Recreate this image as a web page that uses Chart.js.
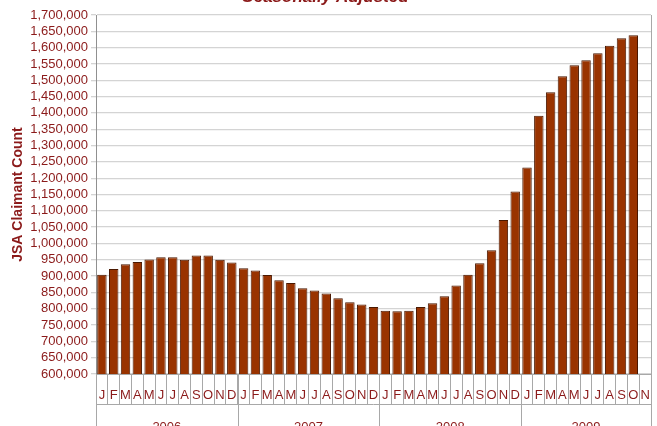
<!DOCTYPE html>
<html>
<head>
<meta charset="utf-8">
<script src="https://cdn.jsdelivr.net/npm/chart.js@4"></script>
<style>
  html, body { margin: 0; padding: 0; background: #fff; overflow: hidden; }
  #wrap { position: relative; width: 657px; height: 440px; margin-top: -14px; }
</style>
</head>
<body>
<div id="wrap"><canvas id="grafico"></canvas></div>
<script>
// Meses (ene 2006 - nov 2009)
const meses = ['J','F','M','A','M','J','J','A','S','O','N','D'];
const anios = ['2006', '2007', '2008', '2009'];
const etiquetas = [];
anios.forEach(a => meses.forEach(m => etiquetas.push(m)));
etiquetas.pop(); // 2009 termina en noviembre

// Valores
const valores2006 = [904000, 922000, 936000, 943000, 951000, 958000, 958000, 950000, 963000, 963000, 950000, 942000];
const valores2007 = [924000, 917000, 903000, 887000, 879000, 863000, 856000, 847000, 832000, 820000, 813000, 805000];
const valores2008 = [794000, 792000, 794000, 805000, 817000, 838000, 871000, 904000, 939000, 979000, 1072000, 1159000];
const valores2009 = [1233000, 1391000, 1463000, 1512000, 1546000, 1561000, 1583000, 1606000, 1629000, 1638000, null];
const valores = [...valores2006, ...valores2007, ...valores2008, ...valores2009];

const rojoOscuro = '#8b1a1a';

// Fila de años debajo de los meses
const filaAnios = {
  id: 'filaAnios',
  afterDraw(chart) {
    const ctx = chart.ctx;
    const x = chart.scales.x;
    const area = chart.chartArea;
    const base = area.bottom;
    const fondo = chart.height;
    const mitad = (x.getPixelForValue(1) - x.getPixelForValue(0)) / 2;
    ctx.save();
    ctx.strokeStyle = '#a8a8a8';
    ctx.lineWidth = 1;
    // línea horizontal bajo los meses
    ctx.beginPath();
    ctx.moveTo(area.left, base + 30.5);
    ctx.lineTo(area.right, base + 30.5);
    ctx.stroke();
    // separadores de años y bordes
    const cortes = [0, 12, 24, 36, etiquetas.length];
    cortes.forEach(i => {
      const px = Math.round(x.getPixelForValue(i) - mitad) + 0.5;
      ctx.beginPath();
      ctx.moveTo(px, base);
      ctx.lineTo(px, fondo);
      ctx.stroke();
    });
    // borde derecho del área
    ctx.beginPath();
    ctx.moveTo(Math.round(area.right) + 0.5, area.top);
    ctx.lineTo(Math.round(area.right) + 0.5, base);
    ctx.stroke();
    // textos de los años
    ctx.fillStyle = rojoOscuro;
    ctx.font = '13px Arial, "Liberation Sans", sans-serif';
    ctx.textAlign = 'center';
    ctx.textBaseline = 'middle';
    anios.forEach((a, k) => {
      const ini = cortes[k];
      const fin = cortes[k + 1] - 1;
      const cx = (x.getPixelForValue(ini) + x.getPixelForValue(fin)) / 2;
      ctx.fillText(a, cx, base + 53);
    });
    ctx.restore();
  }
};

new Chart(document.getElementById('grafico'), {
  type: 'bar',
  data: {
    labels: etiquetas,
    datasets: [{
      label: 'JSA Claimant Count',
      data: valores,
      backgroundColor: '#993300',
      borderColor: '#4a1800',
      borderWidth: 1,
      barPercentage: 0.8,
      categoryPercentage: 1.0
    }]
  },
  options: {
    responsive: true,
    maintainAspectRatio: false,
    animation: false,
    layout: { padding: { left: 0, right: 6, top: 0, bottom: 0 } },
    plugins: {
      legend: { display: false },
      tooltip: { enabled: false },
      title: {
        display: true,
        text: 'Seasonally Adjusted',
        color: rojoOscuro,
        font: { family: 'Arial, "Liberation Sans", sans-serif', size: 17, weight: 'bold', style: 'italic' },
        padding: { top: 1, bottom: 7.6 }
      }
    },
    scales: {
      x: {
        offset: true,
        grid: { offset: true, drawOnChartArea: false, tickLength: 30, color: '#a8a8a8' },
        border: { display: true, color: '#a8a8a8' },
        ticks: {
          color: rojoOscuro,
          autoSkip: false,
          maxRotation: 0,
          padding: -16,
          font: { family: 'Arial, "Liberation Sans", sans-serif', size: 13 }
        },
        afterFit(scale) { scale.height = 52; }
      },
      y: {
        min: 600000,
        max: 1700000,
        grid: { color: '#d4d4d4', tickLength: 5, lineWidth: 1.3 },
        border: { display: true, color: '#909090' },
        ticks: {
          stepSize: 50000,
          autoSkip: false,
          color: rojoOscuro,
          padding: 3,
          font: { family: 'Arial, "Liberation Sans", sans-serif', size: 13 },
          callback: v => v.toLocaleString('en-US')
        },
        title: {
          display: true,
          text: 'JSA Claimant Count',
          color: rojoOscuro,
          font: { family: 'Arial, "Liberation Sans", sans-serif', size: 14, weight: 'bold' },
          padding: { top: 10, bottom: 0 }
        },
        afterFit(scale) { scale.width = 96; }
      }
    }
  },
  plugins: [filaAnios]
});
</script>
</body>
</html>
